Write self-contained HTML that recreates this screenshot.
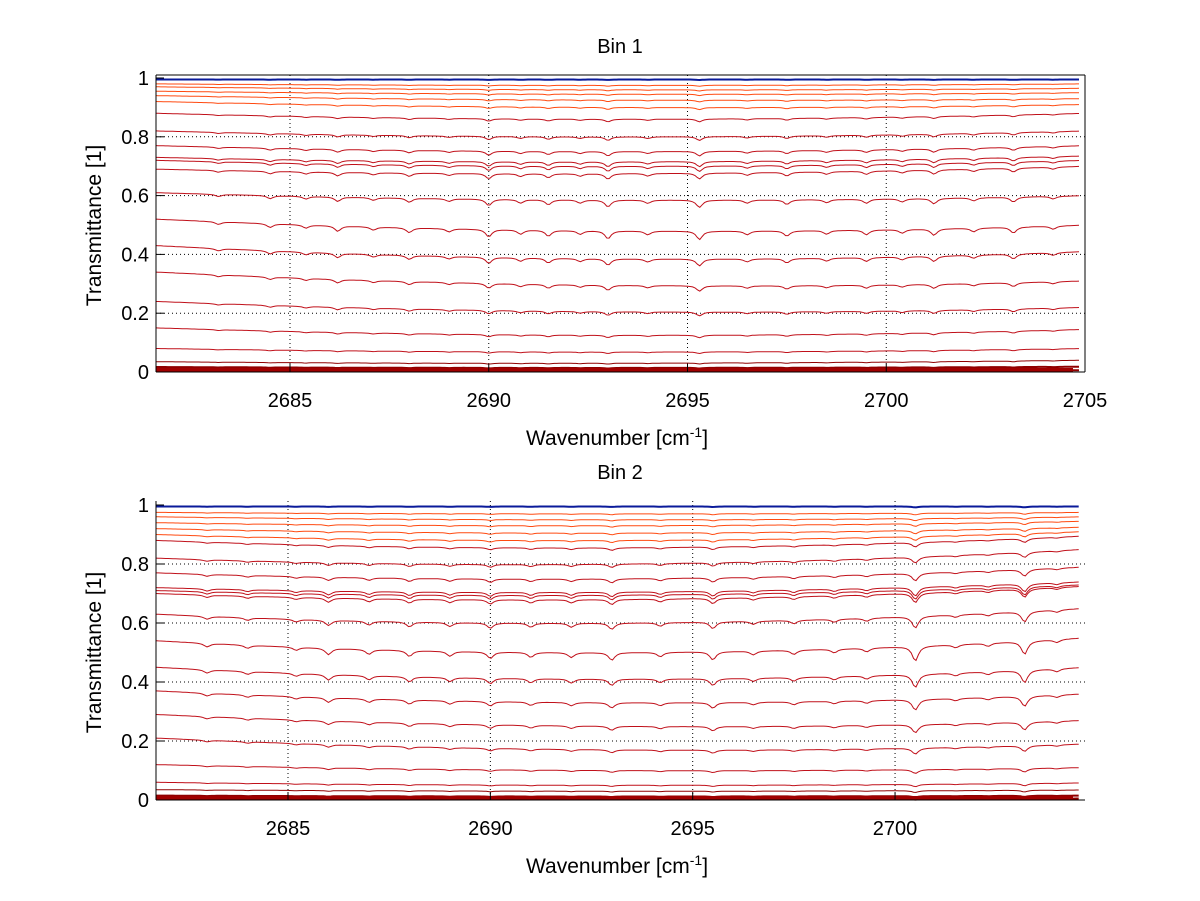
<!DOCTYPE html>
<html><head><meta charset="utf-8">
<style>
html,body{margin:0;padding:0;background:#fff;}
svg{display:block;font-family:"Liberation Sans",sans-serif;}
</style></head>
<body>
<svg id="chart" width="1200" height="901" viewBox="0 0 1200 901" xmlns="http://www.w3.org/2000/svg">
<rect width="1200" height="901" fill="#fff"/>
</svg>
<script>
// ---------- data ----------
const xTicks1 = [2685, 2690, 2695, 2700, 2705];
const xTicks2 = [2685, 2690, 2695, 2700];
const yTicks = [0, 0.2, 0.4, 0.6, 0.8, 1];
const yTickLabels = ["0", "0.2", "0.4", "0.6", "0.8", "1"];
// baseline transmittance of each trace, at left / middle / right
const bin1Start = [0.995,0.98,0.97,0.955,0.94,0.92,0.88,0.82,0.77,0.73,0.72,0.69,0.61,0.52,0.43,0.34,0.24,0.15,0.08,0.035,0.017,0.006];
const bin1Mid   = [0.995,0.975,0.96,0.945,0.925,0.90,0.86,0.80,0.75,0.715,0.70,0.675,0.585,0.48,0.385,0.295,0.205,0.125,0.068,0.03,0.014,0.005];
const bin1End   = [0.995,0.98,0.965,0.95,0.93,0.91,0.88,0.82,0.77,0.735,0.72,0.70,0.60,0.50,0.41,0.31,0.22,0.145,0.08,0.04,0.018,0.006];
const bin2Start = [0.995,0.975,0.96,0.94,0.92,0.90,0.88,0.82,0.77,0.72,0.71,0.70,0.63,0.54,0.45,0.37,0.29,0.21,0.12,0.06,0.035,0.015,0.005];
const bin2Mid   = [0.995,0.97,0.95,0.93,0.905,0.88,0.855,0.80,0.75,0.705,0.695,0.68,0.60,0.50,0.41,0.33,0.25,0.17,0.10,0.05,0.03,0.012,0.004];
const bin2End   = [0.995,0.975,0.96,0.945,0.925,0.91,0.895,0.85,0.79,0.74,0.73,0.725,0.65,0.55,0.45,0.36,0.27,0.19,0.11,0.058,0.034,0.015,0.005];
// absorption lines: positions [cm-1] and relative depth
const bin1Lines = [2683.2,2684.5,2685.4,2686.2,2687.1,2688.0,2689.0,2690.0,2690.8,2691.5,2692.3,2693.0,2694.0,2695.3,2696.5,2697.5,2698.5,2699.5,2700.4,2701.2,2702.2,2703.2,2704.2];
const bin1Depth = [0.25,0.35,0.3,0.5,0.3,0.45,0.3,0.7,0.4,0.55,0.35,0.75,0.35,0.8,0.35,0.5,0.35,0.45,0.35,0.6,0.35,0.55,0.3];
const bin2Lines = [2683.0,2684.0,2685.2,2686.0,2687.0,2688.0,2689.0,2690.0,2691.0,2692.0,2693.0,2694.2,2695.5,2696.5,2697.5,2698.5,2699.3,2700.5,2701.5,2702.3,2703.2,2704.0];
const bin2Depth = [0.35,0.3,0.3,0.6,0.45,0.55,0.45,0.6,0.45,0.45,0.7,0.4,0.75,0.35,0.4,0.35,0.35,1.4,0.3,0.3,1.3,0.3];

// ---------- drawing ----------
const NS = "http://www.w3.org/2000/svg";
const svg = document.getElementById("chart");
function el(tag, attrs, parent){ const e=document.createElementNS(NS,tag); for(const k in attrs) e.setAttribute(k,attrs[k]); (parent||svg).appendChild(e); return e; }

function drawPanel(cfg){
  const g = el("g",{});
  
  
  const L=156, R=1085, T=cfg.top, B=cfg.bottom;
  const xs = w => cfg.x0px + (w - cfg.x0) * cfg.scale;
  const ys = v => B - v * (B - cfg.y1px);
  const xmin = cfg.x0 + (L - cfg.x0px)/cfg.scale, xmax = cfg.x0 + (R - cfg.x0px)/cfg.scale;
  cfg.xticks.forEach(t=>{ const x=xs(t); if(x<R-2){ const l=el("line",{x1:x,x2:x,y1:T,y2:B,stroke:"#000","stroke-width":1,"stroke-dasharray":"1,3"},g);   }});
  yTicks.forEach(t=>{ if(t>0&&t<1){ const y=ys(t); const l=el("line",{x1:L,x2:R,y1:y,y2:y,stroke:"#000","stroke-width":1,"stroke-dasharray":"1,3"},g);   }});
  const n = cfg.start.length;
  for(let i=0;i<n;i++){
    const pts=[];
    const s=cfg.start[i], m=cfg.mid[i], e=cfg.end[i];
    const step=0.06;
    for(let w=xmin; w<=xmax-0.15; w+=step){
      const f=(w-xmin)/(xmax-xmin);
      let base = (1-f)*(1-f)*s + 2*f*(1-f)*(2*m-(s+e)/2) + f*f*e;
      const amp = Math.min(base, 1-base)*0.07 + 0.002;
      let dip=0;
      cfg.lines.forEach((c,k)=>{ const d=(w-c)/0.09; dip += cfg.depth[k]/(1+d*d); });
      const v = base - amp*dip;
      pts.push(xs(w).toFixed(1)+","+ys(v).toFixed(1));
    }
    const frac = i/(n-1);
    let col;
    if(i===0) col="#0a1a9a";
    else if(frac<0.25) col="#ff4a10";
    else if(frac<0.9) col="#c0101a";
    else col="#900000";
    const p=el("polyline",{points:pts.join(" "),fill:"none",stroke:col,"stroke-width":(i===0||i>=n-2)?2:1},g);
    
    
  }
  const bl=el("line",{x1:L,x2:R-12,y1:B-2,y2:B-2,stroke:"#a00000","stroke-width":4},g);
   
  const ax=el("line",{x1:L,x2:L,y1:T,y2:B,stroke:"#000","stroke-width":1},g);
   
  const bx=el("line",{x1:L,x2:R,y1:B,y2:B,stroke:"#000","stroke-width":1},g);
   
  if(cfg.box){
    el("line",{x1:R,x2:R,y1:T,y2:B,stroke:"#000","stroke-width":1},g);
    el("line",{x1:L,x2:R,y1:T,y2:T,stroke:"#000","stroke-width":1},g);
  }
  cfg.xticks.forEach(t=>{
    const x=xs(t);
    el("line",{x1:x,x2:x,y1:B,y2:B-8,stroke:"#000"},g);
    const tx=el("text",{x:Math.min(x,R),y:B+35,"text-anchor":"middle","font-size":20},g);
    tx.textContent=t;
     
  });
  yTicks.forEach((t,k)=>{
    const y=ys(t);
    el("line",{x1:L,x2:L+8,y1:y,y2:y,stroke:"#000"},g);
    const tx=el("text",{x:L-7,y:y+7,"text-anchor":"end","font-size":20},g);
    tx.textContent=yTickLabels[k];
     
  });
  const ti=el("text",{x:620,y:T-22,"text-anchor":"middle","font-size":20},g);
  ti.textContent=cfg.title;
   
  const yl=el("text",{x:0,y:0,"text-anchor":"middle","font-size":21,transform:`translate(101,${(T+B)/2+2}) rotate(-90)`},g);
  yl.textContent="Transmittance [1]";
   
  const xl=el("text",{x:617,y:B+73,"text-anchor":"middle","font-size":21},g);
  xl.innerHTML='Wavenumber [cm<tspan dy="-8" font-size="14">-1</tspan><tspan dy="8">]</tspan>';
   
}

drawPanel({name:"bin-1-panel",title:"Bin 1",top:75,bottom:372,y1px:78,x0:2685,x0px:290,scale:39.75,
  xticks:xTicks1,start:bin1Start,mid:bin1Mid,end:bin1End,lines:bin1Lines,depth:bin1Depth,box:true});
drawPanel({name:"bin-2-panel",title:"Bin 2",top:501,bottom:800,y1px:505,x0:2685,x0px:288,scale:40.47,
  xticks:xTicks2,start:bin2Start,mid:bin2Mid,end:bin2End,lines:bin2Lines,depth:bin2Depth,box:false});
</script>
</body></html>
